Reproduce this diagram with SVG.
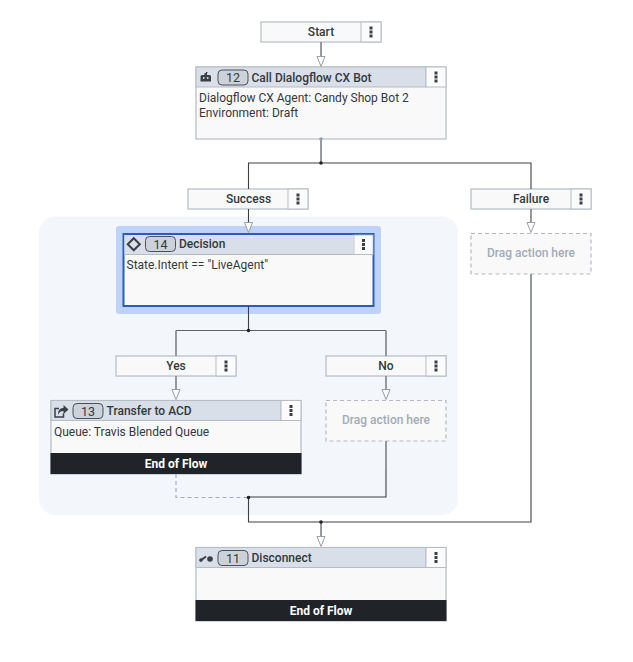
<svg xmlns="http://www.w3.org/2000/svg" width="633" height="662" viewBox="0 0 633 662">
<style>
text{font-family:Roboto,"Liberation Sans",sans-serif;font-size:12px;fill:#33383d}
.b{font-weight:500}
.c{text-anchor:middle}
.box{fill:#f9f9f9;stroke:#b5bcc6;stroke-width:1.2}
.hd{fill:#d8dfe8;stroke:#b5bcc6;stroke-width:1}
.mn{fill:#fbfbfb;stroke:#b5bcc6;stroke-width:1}
.drag{fill:#f9f9f9;stroke:#b2b9c4;stroke-width:1.2;stroke-dasharray:4 3}
.dt{font-weight:500;fill:#a3abb7;text-anchor:middle}
.eof{fill:#202428}
.et{font-weight:700;fill:#fff;text-anchor:middle}
.pill{fill:#ccd2da;stroke:#4b5159;stroke-width:1}
.pt{font-size:12.5px;text-anchor:middle;fill:#33383d}
.ln{fill:none;stroke:#3c4045;stroke-width:1.1}
.th{fill:none;stroke:#8b8e92;stroke-width:1.8}
.md{fill:none;stroke:#5f6368;stroke-width:1.2}
.ds{fill:none;stroke:#a8adb4;stroke-width:1.2;stroke-dasharray:4 3}
.ar{fill:#fff;stroke:#9a9ea4;stroke-width:1}
.dot{fill:#222}
.kb{fill:#3a3f45}
</style>
<defs>
<g id="k"><rect class="kb" x="-1.500" y="-5.500" width="3" height="3"/><rect class="kb" x="-1.500" y="-1.500" width="3" height="3"/><rect class="kb" x="-1.500" y="2.500" width="3" height="3"/></g>
<polygon id="a" class="ar" points="-4,-10.500 4,-10.500 0,-0.500"/>
</defs>
<rect id="group-success" x="39" y="216.500" width="419" height="298.500" rx="16" fill="#f3f6fb"/>
<g id="node-start">
<rect class="box" x="261" y="22" width="120" height="20"/>
<rect class="mn" x="361" y="22" width="20" height="20"/>
<use href="#k" x="371" y="32"/>
<text class="b c" x="321" y="36">Start</text>
</g>
<g id="node-12">
<rect class="box" x="196" y="67" width="250" height="72"/>
<rect class="hd" x="196" y="67" width="230" height="20"/>
<rect class="mn" x="426" y="67" width="20" height="20"/>
<use href="#k" x="436" y="77"/>
<path fill="#3a3f45" d="M202 75h2.500v-2h1.500v-1h-.5h2v1h-.5v2h2.500a1.500 1.500 0 0 1 1.500 1.500v5h-10.500v-5a1.500 1.500 0 0 1 1.500-1.500z"/>
<circle cx="203.800" cy="78" r="0.900" fill="#d8dfe8"/><circle cx="207.700" cy="78" r="0.900" fill="#d8dfe8"/>
<rect class="pill" x="218" y="70" width="30" height="15" rx="4"/>
<text class="pt" x="233" y="82">12</text>
<text class="b" x="251.500" y="81.500">Call Dialogflow CX Bot</text>
<text x="199" y="102">Dialogflow CX Agent: Candy Shop Bot 2</text>
<text x="199" y="117">Environment: Draft</text>
</g>
<g id="node-success">
<rect class="box" x="188" y="189" width="120" height="20"/>
<rect class="mn" x="288" y="189" width="20" height="20"/>
<use href="#k" x="298" y="199"/>
<text class="b c" x="248.500" y="203">Success</text>
</g>
<g id="node-failure">
<rect class="box" x="471" y="189" width="120" height="20"/>
<rect class="mn" x="571" y="189" width="20" height="20"/>
<use href="#k" x="581" y="199"/>
<text class="b c" x="531" y="203">Failure</text>
</g>
<g id="node-drag-failure">
<rect class="drag" x="471" y="233.500" width="120" height="40.500"/>
<text class="dt" x="531" y="257">Drag action here</text>
</g>
<g id="node-14">
<rect x="116" y="226" width="265" height="88" rx="3" fill="#bdd3f9"/>
<rect x="123.500" y="234" width="250" height="72" fill="#f9f9f9" stroke="#2c5cb6" stroke-width="2"/>
<rect x="124.500" y="235" width="229" height="19.500" fill="#d8dfe8"/>
<rect x="354" y="235" width="19" height="19.500" fill="#fbfbfb" stroke="#b5bcc6" stroke-width="0.800"/>
<line x1="124.500" y1="254.500" x2="373" y2="254.500" stroke="#b5bcc6"/>
<use href="#k" x="363.500" y="244.500"/>
<rect x="129.500" y="240" width="8.500" height="8.500" transform="rotate(45 133.750 244.250)" fill="none" stroke="#3a3f45" stroke-width="2"/>
<rect class="pill" x="145.500" y="236.500" width="30" height="15" rx="4"/>
<text class="pt" x="160.500" y="248.500">14</text>
<text class="b" x="179" y="248">Decision</text>
<text x="126.500" y="269">State.Intent == "LiveAgent"</text>
</g>
<g id="node-yes">
<rect class="box" x="116" y="356" width="120" height="20"/>
<rect class="mn" x="216" y="356" width="20" height="20"/>
<use href="#k" x="226" y="366"/>
<text class="b c" x="176" y="370">Yes</text>
</g>
<g id="node-no">
<rect class="box" x="326" y="356" width="120" height="20"/>
<rect class="mn" x="426" y="356" width="20" height="20"/>
<use href="#k" x="436" y="366"/>
<text class="b c" x="386" y="370">No</text>
</g>
<g id="node-13">
<rect class="box" x="51" y="400.500" width="250" height="73.500"/>
<rect class="hd" x="51" y="400.500" width="230" height="20"/>
<rect class="mn" x="281" y="400.500" width="20" height="20"/>
<use href="#k" x="291" y="410.500"/>
<path fill="none" stroke="#3a3f45" stroke-width="1.500" d="M59 408.500h-4v8.500h8.500v-3.500"/>
<path fill="#3a3f45" d="M58 414.500c0-4 2-6.500 5.500-6.500v-3l5 4.500-5 4.500v-3c-2.500 0-4 1-5.500 3.500z"/>
<rect class="pill" x="73" y="403.500" width="30" height="15" rx="4"/>
<text class="pt" x="88" y="415.500">13</text>
<text class="b" x="106.500" y="415">Transfer to ACD</text>
<text x="54" y="436">Queue: Travis Blended Queue</text>
<rect class="eof" x="50.500" y="453" width="251" height="21"/>
<text class="et" x="176" y="468">End of Flow</text>
</g>
<g id="node-drag-no">
<rect class="drag" x="326" y="400.500" width="120" height="40.500"/>
<text class="dt" x="386" y="424">Drag action here</text>
</g>
<g id="node-11">
<rect class="box" x="196" y="547.500" width="250" height="73.500"/>
<rect class="hd" x="196" y="547.500" width="230" height="20"/>
<rect class="mn" x="426" y="547.500" width="20" height="20"/>
<use href="#k" x="436" y="557.500"/>
<path fill="none" stroke="#3a3f45" stroke-width="2" d="M200 561l6-4.500"/>
<circle cx="201" cy="560" r="1.800" fill="#3a3f45"/>
<circle cx="210" cy="559" r="2.800" fill="#3a3f45"/>
<rect class="pill" x="218" y="550.500" width="30" height="15" rx="4"/>
<text class="pt" x="233" y="562.500">11</text>
<text class="b" x="251.500" y="562">Disconnect</text>
<rect class="eof" x="195.500" y="600" width="251" height="21"/>
<text class="et" x="321" y="615">End of Flow</text>
</g>
<g id="connectors">
<path class="th" d="M321 42V56.500"/>
<path class="th" d="M321 139V163"/>
<path class="ln" d="M248.500 189V163H531V189"/>
<path class="ln" d="M248.500 209V222.500"/>
<path class="th" d="M531 209V222.500M531 274V400"/>
<path class="ln" d="M531 400V522H248.500V497"/>
<path class="ln" d="M248.500 306V330"/>
<path class="md" d="M176 330.500H386"/>
<path class="th" d="M176 356V330.500M386 356V330.500M176 376V389.500M386 376V389.500M386 441V470"/>
<path class="ln" d="M386 470V497H248.500"/>
<path class="ds" d="M176 474V497.500H248"/>
<path class="th" d="M321 522V536.500"/>
<use href="#a" x="321" y="67"/>
<use href="#a" x="248.500" y="233"/>
<use href="#a" x="531" y="233"/>
<use href="#a" x="176" y="400"/>
<use href="#a" x="386" y="400"/>
<use href="#a" x="321" y="547"/>
<circle class="dot" cx="321" cy="163" r="1.800"/>
<circle class="dot" cx="248.500" cy="330.500" r="1.800"/>
<circle class="dot" cx="248.500" cy="497.500" r="1.800"/>
<circle class="dot" cx="321" cy="522" r="1.800"/>
<circle cx="321" cy="139" r="1.800" fill="#8fa0b8"/>
</g>
</svg>
